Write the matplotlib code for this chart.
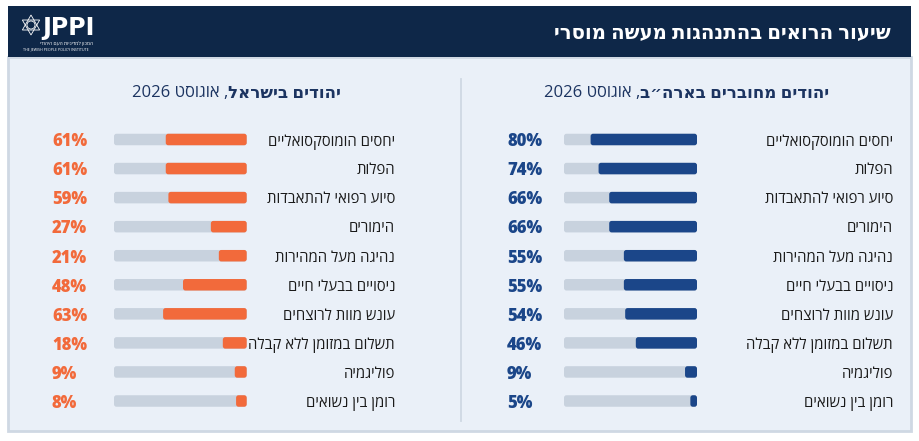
import matplotlib
matplotlib.use('Agg')
import matplotlib.pyplot as plt
from matplotlib.patches import Rectangle, FancyBboxPatch, Polygon, Circle
import numpy as np

plt.rcParams['font.family'] = ['Open Sans', 'DejaVu Sans']

# data
title = 'שיעור הרואים בהתנהגות מעשה מוסרי'
categories = ['יחסים הומוסקסואליים', 'הפלות', 'סיוע רפואי להתאבדות', 'הימורים',
              'נהיגה מעל המהירות', 'ניסויים בבעלי חיים', 'עונש מוות לרוצחים',
              'תשלום במזומן ללא קבלה', 'פוליגמיה', 'רומן בין נשואים']
us_values = [80, 74, 66, 66, 55, 55, 54, 46, 9, 5]
israel_values = [61, 61, 59, 27, 21, 48, 63, 18, 9, 8]
us_title_bold = 'יהודים מחוברים בארה״ב'
israel_title_bold = 'יהודים בישראל'
date_part = 'אוגוסט 2026'

NAVY_HDR = '#0e2748'
PANEL_BG = '#eaf0f8'
BORDER = '#cfd8e3'
TRACK = '#c8d2de'
NAVY_BAR = '#1b4689'
ORANGE = '#f26a3b'
TITLE_CLR = '#1c3461'
TXT = '#1a1a1a'

W, H = 919, 441


def vis(s):
    # crude bidi: hebrew reversed for LTR drawing
    return s[::-1]


def vis_date(s):
    # "אוגוסט 2026" -> "2026 טסוגוא"
    word, year = s.split(' ')
    return year + ' ' + vis(word)


fig = plt.figure(figsize=(W / 100, H / 100), dpi=100)
fig.patch.set_facecolor('white')

bg = fig.add_axes([0, 0, 1, 1])
bg.set_xlim(0, W)
bg.set_ylim(H, 0)
bg.axis('off')

# panel + header
bg.add_patch(Rectangle((8, 57), 903, 374, facecolor=PANEL_BG, edgecolor=BORDER, lw=2))
bg.add_patch(Rectangle((8, 6), 903, 51, facecolor=NAVY_HDR, edgecolor='none'))
bg.plot([461, 461], [79, 421], color=BORDER, lw=1.3)

bg.text(891, 33, vis(title), color='white', fontsize=14.1, fontweight='bold',
        ha='right', va='center')

# logo
cx, cy, r = 31, 25, 10
t1 = [(cx + r * np.sin(a), cy - r * np.cos(a)) for a in np.radians([0, 120, 240])]
t2 = [(cx + r * np.sin(a), cy + r * np.cos(a)) for a in np.radians([0, 120, 240])]
bg.add_patch(Polygon(t1, closed=True, fill=False, edgecolor='white', lw=0.6))
bg.add_patch(Polygon(t2, closed=True, fill=False, edgecolor='white', lw=0.6))
bg.add_patch(Circle((cx, cy), 4, fill=False, edgecolor='white', lw=0.6))
bg.text(42, 28, 'JPPI', color='white', fontsize=17, fontweight='bold',
        ha='left', va='center', family='DejaVu Sans')
bg.text(93, 43, vis('המכון למדיניות העם היהודי'), color='white', fontsize=3.6,
        ha='right', va='center')
bg.text(23, 49, 'THE JEWISH PEOPLE POLICY INSTITUTE', color='white', fontsize=2.6,
        ha='left', va='center')

renderer = fig.canvas.get_renderer()


def panel_title(x_right, y, bold):
    t = bg.text(x_right, y, vis(bold), color=TITLE_CLR, fontsize=12,
                fontweight='bold', ha='right', va='center')
    bb = t.get_window_extent(renderer)
    x0 = bg.transData.inverted().transform((bb.x0, bb.y0))[0]
    bg.text(x0, y, vis_date(date_part) + ' ,', color=TITLE_CLR, fontsize=12,
            ha='right', va='center')


panel_title(829, 93, us_title_bold)
panel_title(341, 93, israel_title_bold)


def round_bars(ax, bars, r_px, px_x, px_y):
    # swap plain rectangles for rounded ones
    for b in bars:
        x, y = b.get_x(), b.get_y()
        w, h = b.get_width(), b.get_height()
        rx = r_px / px_x
        p = FancyBboxPatch((x, y), w, h,
                           boxstyle=f'round,pad=0,rounding_size={min(rx, w / 2)}',
                           mutation_aspect=px_x / px_y,
                           facecolor=b.get_facecolor(), edgecolor='none',
                           zorder=b.get_zorder())
        b.remove()
        ax.add_patch(p)


row_top, row_bot = 139.5, 401
step = (row_bot - row_top) / (len(categories) - 1)


def panel(track_left, track_right, values, color, val_x_px, cat_x_px):
    top = row_top - step / 2
    bot = row_bot + step / 2
    wpx = track_right - track_left
    ax = fig.add_axes([track_left / W, (H - bot) / H, wpx / W, (bot - top) / H])
    ax.patch.set_alpha(0)
    n = len(categories)
    ypos = np.arange(n)
    ax.set_xlim(100, 0)
    ax.set_ylim(n - 0.5, -0.5)
    ax.axis('off')
    bh = 11.5 / step
    tr = ax.barh(ypos, [100] * n, height=bh, color=TRACK, zorder=1)
    vb = ax.barh(ypos, values, height=bh, color=color, zorder=2)
    px_x = wpx / 100
    px_y = step
    round_bars(ax, tr, 2.5, px_x, px_y)
    round_bars(ax, vb, 2.5, px_x, px_y)
    tf = ax.get_yaxis_transform()
    vx = (val_x_px - track_left) / wpx
    cxp = (cat_x_px - track_left) / wpx
    for i, (c, v) in enumerate(zip(categories, values)):
        ax.text(vx, i + 0.08, f'{v}%', transform=tf, color=color, fontsize=12,
                fontweight='heavy', ha='left', va='center')
        ax.text(cxp, i + 0.08, vis(c), transform=tf, color=TXT, fontsize=10.7,
                ha='right', va='center')
    return ax


panel(564, 697, us_values, NAVY_BAR, 507, 893)
panel(114, 246.7, israel_values, ORANGE, 52, 395)

fig.savefig('out.png', dpi=100, facecolor=fig.get_facecolor())
